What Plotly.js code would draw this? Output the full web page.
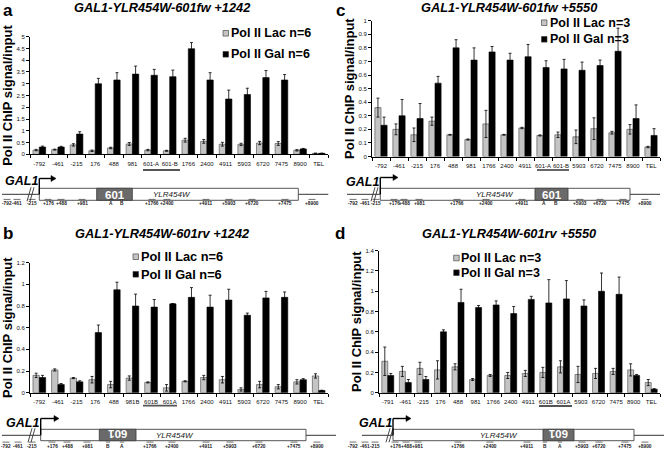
<!DOCTYPE html>
<html><head><meta charset="utf-8">
<script src="https://cdn.plot.ly/plotly-3.0.1.min.js"></script>
<style>html,body{margin:0;padding:0;background:#fff}#chart{width:664px;height:451px}</style>
</head><body><div id="chart"></div>
<script>
// ---------- DATA ----------
const catsA = ["-792","-461","-215","176","488","981","601-A","601-B","1766","2400","4911","5903","6720","7475","8900","TEL"];
const lacA = [0.18,0.2,0.4,0.15,0.27,0.44,0.18,0.15,0.6,0.55,0.43,0.42,0.48,0.46,0.17,0.04];
const lacErrA = [0.03,0.02,0.05,0.03,0.03,0.06,0.03,0.02,0.08,0.08,0.08,0.05,0.07,0.08,0.03,0.01];
const galA = [0.31,0.31,0.86,3.0,3.16,3.41,3.36,3.3,4.49,3.16,2.35,2.54,3.26,3.16,0.23,0.04];
const galErrA = [0.04,0.03,0.1,0.23,0.31,0.34,0.25,0.28,0.26,0.31,0.38,0.27,0.3,0.23,0.02,0.01];

const catsB = ["-792","-461","-215","176","488","981B","601B","601A","1766","2400","4911","5903","6720","7475","8900","TEL"];
const lacB = [0.16,0.21,0.135,0.12,0.075,0.135,0.095,0.045,0.105,0.14,0.12,0.03,0.075,0.055,0.1,0.155];
const lacErrB = [0.02,0.01,0.005,0.03,0.03,0.02,0.005,0.03,0.005,0.02,0.03,0.015,0.03,0.02,0.02,0.02];
const galB = [0.14,0.075,0.1,0.555,0.95,0.8,0.79,0.82,0.88,0.79,0.855,0.715,0.875,0.88,0.12,0.02];
const galErrB = [0.02,0.01,0.01,0.07,0.07,0.11,0.07,0.003,0.09,0.11,0.1,0.02,0.06,0.05,0.01,0.003];

const catsC = ["-792","-461","-215","176","488","981","1766","2400","4911","601-A","601-B","5903","6720","7475","8900","TEL"];
const lacC = [0.36,0.2,0.16,0.26,0.16,0.125,0.24,0.16,0.21,0.155,0.16,0.145,0.205,0.175,0.2,0.07];
const lacErrC = [0.07,0.04,0.05,0.03,0.003,0.004,0.1,0.003,0.005,0.004,0.02,0.05,0.08,0.01,0.035,0.005];
const galC = [0.23,0.3,0.28,0.54,0.8,0.71,0.77,0.71,0.735,0.655,0.645,0.635,0.67,0.775,0.28,0.155];
const galErrC = [0.06,0.12,0.11,0.05,0.06,0.09,0.04,0.05,0.09,0.05,0.07,0.06,0.04,0.17,0.1,0.05];

const catsD = ["-791","-461","-215","176","488","981","1766","2400","4911","601B","601A","5903","6720","7475","8900","TEL"];
const lacD = [0.31,0.21,0.24,0.225,0.255,0.13,0.17,0.17,0.19,0.2,0.255,0.18,0.19,0.21,0.225,0.1];
const lacErrD = [0.14,0.05,0.06,0.09,0.03,0.01,0.01,0.03,0.03,0.05,0.06,0.08,0.05,0.03,0.06,0.03];
const galD = [0.17,0.1,0.13,0.6,0.89,0.84,0.865,0.78,0.92,0.885,0.925,0.855,1.0,0.97,0.17,0.035];
const galErrD = [0.02,0.03,0.03,0.02,0.13,0.02,0.04,0.07,0.03,0.23,0.18,0.06,0.18,0.17,0.01,0.005];

const seriesNamesA = ["Pol II Lac n=6","Pol II Gal n=6"];
const seriesNamesB = ["Pol II Lac n=6","Pol II Gal n=6"];
const seriesNamesC = ["Pol II Lac n=3","Pol II Gal n=3"];
const seriesNamesD = ["Pol II Lac n=3","Pol II Gal n=3"];
const titles = ["GAL1-YLR454W-601fw +1242","GAL1-YLR454W-601rv +1242","GAL1-YLR454W-601fw +5550","GAL1-YLR454W-601rv +5550"];

// ---------- LAYOUT HELPERS ----------
const W = 664, H = 451;
const X = p => p / W;
const Y = p => 1 - p / H;
const LAC_COLOR = '#c4c4c4', GAL_COLOR = '#000000';
const FONT = 'Arial, "Liberation Sans", sans-serif';

const shapes = [];
const annotations = [];
function ln(x0, y0, x1, y1, color, width) {
  shapes.push({type:'line', xref:'paper', yref:'paper', x0:X(x0), y0:Y(y0), x1:X(x1), y1:Y(y1),
    line:{color:color, width:width}});
}
function rc(x0, y0, x1, y1, fill, lc, lw) {
  shapes.push({type:'rect', xref:'paper', yref:'paper', x0:X(x0), y0:Y(y0), x1:X(x1), y1:Y(y1),
    fillcolor:fill, line:{color:lc, width:lw}});
}
function pth(pts, fill) {
  const d = pts.map((p, i) => (i ? 'L' : 'M') + X(p[0]).toFixed(5) + ',' + Y(p[1]).toFixed(5)).join(' ') + ' Z';
  shapes.push({type:'path', xref:'paper', yref:'paper', path:d, fillcolor:fill, line:{color:fill, width:0.5}});
}
function tx(text, x, y, size, opts) {
  opts = opts || {};
  annotations.push(Object.assign({text:text, xref:'paper', yref:'paper', x:X(x), y:Y(y), showarrow:false,
    xanchor:'center', yanchor:'middle', borderpad:0,
    font:{family:FONT, size:size, color:opts.color || '#000'}}, opts.extra || {}));
}

// ---------- PANELS ----------
const panels = [
  {key:'', cats:catsA, lac:lacA, lacErr:lacErrA, gal:galA, galErr:galErrA, names:seriesNamesA,
   xd:[30,328], yd:[154.3,36.7], range:[0,5], dtick:0.5, title:titles[0], letter:'a', letterPos:[8,10.5], titlePos:[162,8],
   leg:{sx:223, tx:230, y:[33.3,54.3], size:12.5}, ul:[143,180,170]},
  {key:'2', cats:catsC, lac:lacC, lacErr:lacErrC, gal:galC, galErr:galErrC, names:seriesNamesC,
   xd:[372,660], yd:[156.5,20.7], range:[0,1], dtick:0.1, title:titles[2], letter:'c', letterPos:[341,10.5], titlePos:[509,8],
   leg:{sx:541.5, tx:549, y:[22.7,39.3], size:12.5}, ul:[537,569,170]},
  {key:'3', cats:catsB, lac:lacB, lacErr:lacErrB, gal:galB, galErr:galErrB, names:seriesNamesB,
   xd:[30,328], yd:[392.7,262.7], range:[0,1.2], dtick:0.2, title:titles[1], letter:'b', letterPos:[8,233], titlePos:[162,234],
   leg:{sx:133, tx:139.5, y:[256.7,274.3], size:12.8}, ul:[143,177,405.7]},
  {key:'4', cats:catsD, lac:lacD, lacErr:lacErrD, gal:galD, galErr:galErrD, names:seriesNamesD,
   xd:[379,660], yd:[392.7,250.7], range:[0,1.4], dtick:0.2, title:titles[3], letter:'d', letterPos:[340,233], titlePos:[509,234],
   leg:{sx:453.7, tx:460, y:[258,272.7], size:12.5}, ul:[539,572,406]}
];

const traces = [];
const layout = {
  width: W, height: H, margin:{l:0, r:0, t:0, b:0}, paper_bgcolor:'#fff', plot_bgcolor:'rgba(0,0,0,0)',
  barmode:'group', bargap:0.32, bargroupgap:0, showlegend:false, font:{family:FONT, color:'#000'}
};

panels.forEach(p => {
  const xa = 'x' + p.key, ya = 'y' + p.key;
  traces.push({type:'bar', x:p.cats, y:p.lac, name:p.names[0], xaxis:xa, yaxis:ya,
    marker:{color:LAC_COLOR, line:{color:'#444', width:0.6}},
    error_y:{type:'data', array:p.lacErr, visible:true, color:'#000', thickness:0.8, width:1.5}});
  traces.push({type:'bar', x:p.cats, y:p.gal, name:p.names[1], xaxis:xa, yaxis:ya,
    marker:{color:GAL_COLOR, line:{color:'#000', width:0.6}},
    error_y:{type:'data', array:p.galErr, visible:true, color:'#000', thickness:0.8, width:1.5}});
  layout['xaxis' + p.key] = {domain:[X(p.xd[0]), X(p.xd[1])], anchor:ya, type:'category',
    showline:true, linecolor:'#000', linewidth:1, ticks:'outside', tickson:'boundaries', ticklen:3,
    tickcolor:'#000', tickwidth:1, tickfont:{family:FONT, size:6, color:'#111'}, tickangle:0,
    ticklabelstandoff:3, showgrid:false, zeroline:false, fixedrange:true};
  layout['yaxis' + p.key] = {domain:[Y(p.yd[0]), Y(p.yd[1])], anchor:xa, range:p.range, dtick:p.dtick,
    showline:true, linecolor:'#000', linewidth:1, ticks:'outside', ticklen:3, tickcolor:'#000', tickwidth:1,
    tickfont:{family:FONT, size:6, color:'#111'}, showgrid:false, zeroline:false, fixedrange:true,
    title:{text:'<b>Pol II ChIP signal/input</b>', font:{family:FONT, size:13, color:'#000'}, standoff:0}};
  tx('<b>' + p.letter + '</b>', p.letterPos[0], p.letterPos[1], 17);
  tx('<b><i>' + p.title + '</i></b>', p.titlePos[0], p.titlePos[1], 12.8);
  p.leg.y.forEach((yy, i) => {
    rc(p.leg.sx, yy - 2.8, p.leg.sx + 5.5, yy + 2.8, i ? GAL_COLOR : LAC_COLOR, '#333', 0.6);
    tx('<b>' + p.names[i] + '</b>', p.leg.tx, yy, p.leg.size, {extra:{xanchor:'left'}});
  });
  ln(p.ul[0], p.ul[2], p.ul[1], p.ul[2], '#555', 1.8);
});

// ---------- GENE DIAGRAMS ----------
const diagrams = [
  {gal:[21,181], arrowX:39.3, arrowTop:178.5, arrowEnd:55, lineY:194.3, left:2, box:[39.3,298.3], boxY:[188.3,200.3],
   dark:[96.7,132.3], flip:false, ylr:172, brk:27, labY:203.3,
   labels:[["-792",7],["-461",17],["-215",32],["+176",48],["+488",61],["+981",82],["A",111],["B",122],["+1766",152],["+2400",167],["+4911",206],["+5903",229],["+6720",252],["+7475",285],["+8900",312]]},
  {gal:[362,182], arrowX:380.3, arrowTop:177.5, arrowEnd:397, lineY:194.3, left:347, box:[380.3,630], boxY:[188.3,200.3],
   dark:[535,568], flip:false, ylr:495, brk:371, labY:203.3,
   labels:[["-792",353],["-461",365],["-215",376],["+176",394],["+488",404],["+981",419],["+1766",457],["+2400",486],["+4911",522],["A",544],["B",556],["+5903",580],["+6720",600],["+7475",623],["+8900",645]]},
  {gal:[22,423], arrowX:40.7, arrowTop:418.5, arrowEnd:58, lineY:435.3, left:2, box:[40.7,306], boxY:[429.3,440.7],
   dark:[99.3,136], flip:true, ylr:175, brk:28, labY:446,
   labels:[["-792",6],["-461",18],["-215",32],["+176",52],["+488",67],["+981",87],["B",108],["A",122],["+1766",150],["+2400",172],["+4911",206],["+5903",230],["+6720",259],["+7475",294],["+8900",317]]},
  {gal:[375,423], arrowX:393, arrowTop:418.5, arrowEnd:410, lineY:435.3, left:362, box:[393,634], boxY:[429.3,440.7],
   dark:[543,574], flip:true, ylr:499, brk:386, labY:446,
   labels:[["-792",353],["-461",365],["-215",375],["+176",395],["+488",406],["+981",418],["+1766",458],["+2400",490],["+4911",527],["B",545],["A",560],["+5903",582],["+6720",599],["+7475",625],["+8900",645]]}
];

diagrams.forEach(d => {
  ln(d.left, d.lineY, d.box[0], d.lineY, '#333', 1);
  ln(d.box[1], d.lineY, d.box[1] + 30, d.lineY, '#333', 1);
  ln(d.brk, d.lineY + 7, d.brk + 4, d.lineY - 7, '#333', 0.9);
  ln(d.brk + 3, d.lineY + 7, d.brk + 7, d.lineY - 7, '#333', 0.9);
  rc(d.box[0], d.boxY[0], d.box[1], d.boxY[1], '#fff', '#444', 0.9);
  rc(d.dark[0], d.boxY[0], d.dark[1], d.boxY[1], '#6a6a6a', '#444', 0.9);
  tx('<b>601</b>', (d.dark[0] + d.dark[1]) / 2, (d.boxY[0] + d.boxY[1]) / 2 + (d.flip ? -0.5 : 0.5), 11.5,
     {color:'#fff', extra: d.flip ? {textangle:180} : {}});
  tx('<i>YLR454W</i>', d.ylr, (d.boxY[0] + d.boxY[1]) / 2, 8, {color:'#222'});
  tx('<b><i>GAL1</i></b>', d.gal[0], d.gal[1], 12.5);
  ln(d.arrowX, d.lineY, d.arrowX, d.arrowTop, '#000', 1.4);
  ln(d.arrowX, d.arrowTop, d.arrowEnd - 3, d.arrowTop, '#000', 1.4);
  pth([[d.arrowEnd - 4, d.arrowTop - 3], [d.arrowEnd + 1, d.arrowTop], [d.arrowEnd - 4, d.arrowTop + 3]], '#000');
  d.labels.forEach(l => {
    tx('<b>' + l[0] + '</b>', l[1], d.labY, 4.8, {color:'#222'});
    const half = l[0].length > 1 ? 3.5 : 2.2;
    ln(l[1] - half, d.labY - 3.9, l[1] + half, d.labY - 3.9, '#333', 0.7);
  });
});

layout.shapes = shapes;
layout.annotations = annotations;

Plotly.newPlot('chart', traces, layout, {displayModeBar:false, staticPlot:true});
</script></body></html>
